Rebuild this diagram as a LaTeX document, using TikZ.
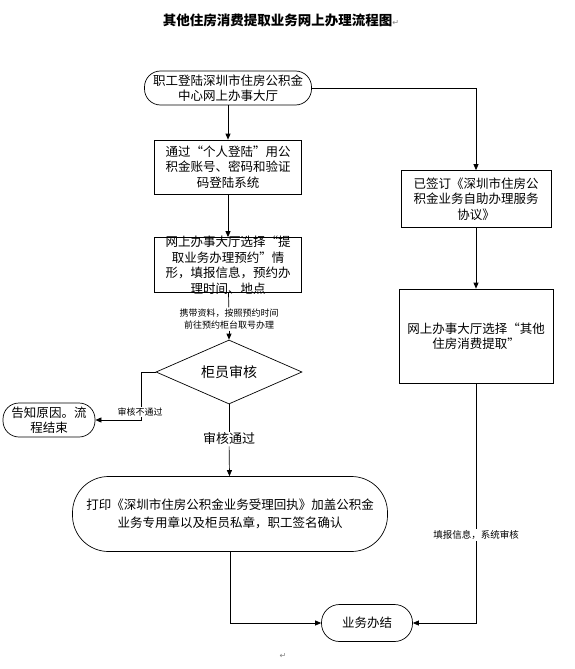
\documentclass[tikz,border=0pt]{standalone}
\usepackage{fontspec}
\setmainfont{Noto Sans CJK SC}
\newfontfamily\markfont{DejaVu Sans}
\usetikzlibrary{shapes.geometric,arrows.meta}

\begin{document}
\begin{tikzpicture}[x=1pt,y=-1pt,line width=.7pt,
    arr/.style={-{Triangle[length=6pt,width=5pt]}},
    box/.style={draw,rectangle,align=center,inner sep=0pt,
        font=\fontsize{12.5}{15.5}\selectfont},
    term/.style={box,rounded corners=#1},
    note/.style={fill=white,align=center,inner sep=1pt,
        font=\fontsize{9}{12}\selectfont},
    retmark/.style={text=gray,inner sep=0pt,font=\markfont\fontsize{8}{8}\selectfont}]
    \useasboundingbox (0,0) rectangle (574,669);

    % title
    \node (title) at (281,20) {\fontsize{13.5}{14}\selectfont\bfseries
        其他住房消费提取业务网上办理流程图{\markfont\mdseries\color{gray}\fontsize{8}{8}\selectfont↵}};

    % left column
    \node[term=16pt,minimum width=167pt,minimum height=34pt] (login) at (228,88)
        {职工登陆深圳市住房公积金\\中心网上办事大厅};
    \node[box,minimum width=147pt,minimum height=54pt] (personal) at (228,167)
        {通过“个人登陆”用公\\积金账号、密码和验证\\码登陆系统};
    \node[box,minimum width=147pt,minimum height=55pt,inner ysep=-2pt] (reserve) at (228,265)
        {网上办事大厅选择“提\\取业务办理预约”情\\形，填报信息，预约办\\理时间、地点};
    \node[note] (bring) at (229,319) {携带资料，按照预约时间\\前往预约柜台取号办理};
    \node[draw,diamond,aspect=2.3,inner sep=0pt,minimum width=146pt,minimum height=64pt,
        font=\fontsize{14}{14}\selectfont] (check) at (229,372) {柜员审核};
    \node[term=16pt,minimum width=92pt,minimum height=34pt] (fail) at (49,420)
        {告知原因。流\\程结束};
    \node[note,font=\fontsize{13}{13}\selectfont] (pass) at (229,439) {审核通过};
    \node[term=36pt,minimum width=315pt,minimum height=75pt,
        font=\fontsize{12.5}{18}\selectfont] (print) at (230,514)
        {打印《深圳市住房公积金业务受理回执》加盖公积金\\业务专用章以及柜员私章，职工签名确认};
    \node[term=18pt,minimum width=91pt,minimum height=37pt] (done) at (367,623) {业务办结};

    % right column
    \node[box,minimum width=150pt,minimum height=57pt] (signed) at (476,199)
        {已签订《深圳市住房公\\积金业务自助办理服务\\协议》};
    \node[box,minimum width=154pt,minimum height=94pt] (select) at (476,336)
        {网上办事大厅选择“其他\\住房消费提取”};
    \node[note,font=\fontsize{9.5}{12}\selectfont] (fill) at (476,535) {填报信息，系统审核};

    % connectors
    \draw[arr] (login) -- (personal);
    \draw[arr] (personal) -- (reserve);
    \draw (reserve) -- (bring);
    \draw[arr] (bring) -- (check);
    \draw[arr] (check.west) -- ++(-14,0) |- (fail.east);
    \node[note] (nopass) at (140,412) {审核不通过};
    \draw (check) -- (pass);
    \draw[arr] (pass) -- (print);
    \draw[arr] (print) |- (done);
    \draw[arr] (login) -| (signed);
    \draw[arr] (signed) -- (select);
    \draw (select) -- (fill);
    \draw[arr] (fill) |- (done);

    \node[retmark] (endmark) at (283,656) {↵};
\end{tikzpicture}
\end{document}
